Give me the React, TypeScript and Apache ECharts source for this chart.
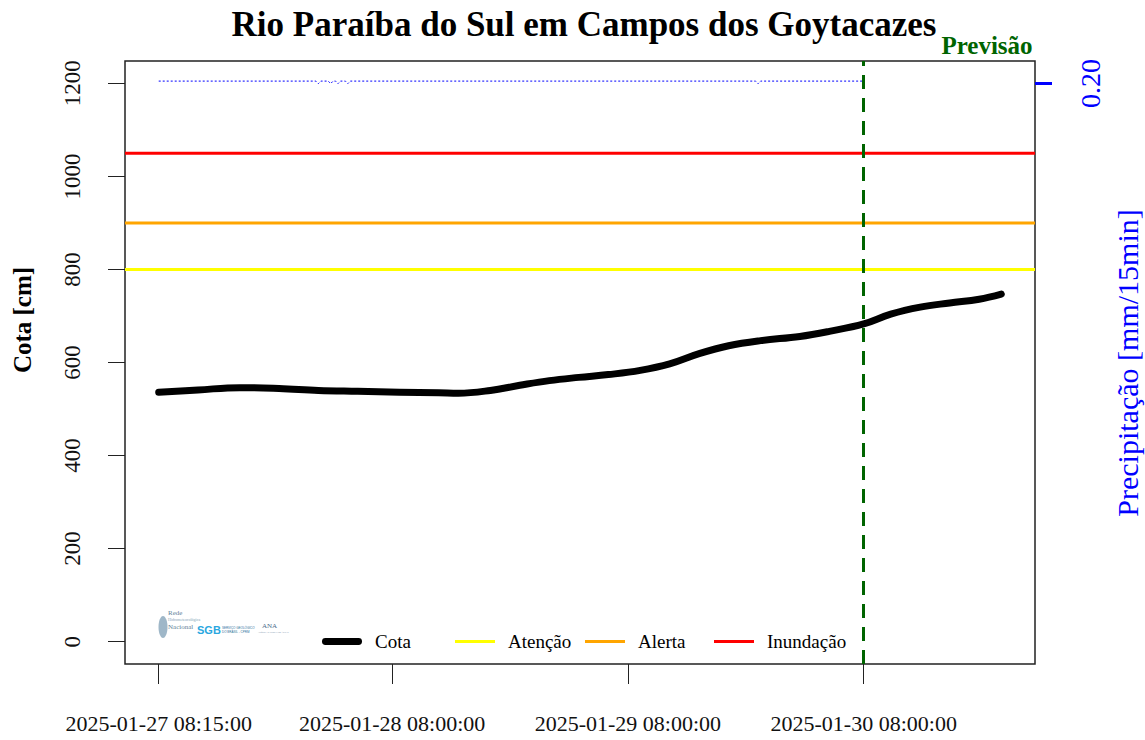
import React, { useEffect, useRef } from "react";
import * as echarts from "echarts";

const FONT = "'Liberation Serif', 'Times New Roman', serif";

const titleText = "Rio Paraíba do Sul em Campos dos Goytacazes";

// Observed + forecast water level (cm)
const cotaTimes = [
  "2025-01-27 08:15", "2025-01-27 12:15", "2025-01-27 16:30", "2025-01-27 20:30",
  "2025-01-28 00:30", "2025-01-28 04:30", "2025-01-28 08:45", "2025-01-28 12:45",
  "2025-01-28 14:45", "2025-01-28 18:00", "2025-01-28 21:00", "2025-01-29 00:00",
  "2025-01-29 03:00", "2025-01-29 06:00", "2025-01-29 09:15", "2025-01-29 12:15",
  "2025-01-29 15:15", "2025-01-29 18:15", "2025-01-29 21:30", "2025-01-30 01:30",
  "2025-01-30 04:30", "2025-01-30 08:00", "2025-01-30 10:45", "2025-01-30 13:45",
  "2025-01-30 16:45", "2025-01-30 19:45", "2025-01-30 22:00",
];
const cotaValues = [
  536, 541, 546, 544, 540, 538, 536, 535, 534, 540, 551, 561, 568, 574, 583, 597,
  619, 636, 647, 656, 667, 683, 704, 719, 728, 736, 747,
];

// Precipitation (mm/15min)
const precipTimes = [
  "2025-01-27 08:15", "2025-01-28 00:15", "2025-01-28 00:30", "2025-01-28 00:45",
  "2025-01-28 01:30", "2025-01-28 01:45", "2025-01-28 02:00", "2025-01-28 02:15",
  "2025-01-28 02:30", "2025-01-28 02:45", "2025-01-28 03:15", "2025-01-28 03:30",
  "2025-01-28 03:45", "2025-01-29 21:00", "2025-01-29 21:15", "2025-01-29 21:30",
  "2025-01-30 08:00",
];
const precipValues = [0, 0, 0.2, 0, 0, 0.2, 0, 0, 0.2, 0, 0, 0.2, 0, 0, 0.2, 0, 0];

// Thresholds
const thresholdNames = ["Atenção", "Alerta", "Inundação"];
const thresholdValues = [800, 900, 1050];
const thresholdColors = ["#FFFF00", "#FFA500", "#FF0000"];

const forecastStart = "2025-01-30 08:00";

const xTickLabels = [
  "2025-01-27 08:15:00",
  "2025-01-28 08:00:00",
  "2025-01-29 08:00:00",
  "2025-01-30 08:00:00",
];
const yTicks = [0, 200, 400, 600, 800, 1000, 1200];
const precipTicks = [0.2];

const toMs = (s: string) => new Date(s.replace(" ", "T") + (s.length === 16 ? ":00" : "")).getTime();
const pad = (n: number) => String(n).padStart(2, "0");
const fmt = (v: number) => {
  const d = new Date(v);
  return `${d.getFullYear()}-${pad(d.getMonth() + 1)}-${pad(d.getDate())} ${pad(d.getHours())}:${pad(
    d.getMinutes()
  )}:${pad(d.getSeconds())}`;
};

export default function App() {
  const ref = useRef<HTMLDivElement>(null);
  useEffect(() => {
    if (!ref.current) return;
    const chart = echarts.init(ref.current, null, { renderer: "svg" });

    const cotaData = cotaTimes.map((t, i) => [toMs(t), cotaValues[i]]);
    const precipData = precipTimes.map((t, i) => [toMs(t), precipValues[i]]);
    const t0 = cotaData[0][0];
    const t1 = cotaData[cotaData.length - 1][0];
    const ext = (t1 - t0) * 0.04;
    const xmin = t0 - ext;
    const xmax = t1 + ext;
    const xTickMs = xTickLabels.map(toMs);

    const thresholdSeries = thresholdNames.map((name, i) => ({
      name,
      type: "line",
      data: [
        [xmin, thresholdValues[i]],
        [xmax, thresholdValues[i]],
      ],
      showSymbol: false,
      symbol: "none",
      lineStyle: { color: thresholdColors[i], width: 3 },
      itemStyle: { color: thresholdColors[i] },
      silent: true,
      z: 2,
    }));

    const legendLefts = [322, 455, 585, 714];
    const legendNames = ["Cota", ...thresholdNames];
    const legends = legendNames.map((name, i) => ({
      data: [
        {
          name,
          icon: i === 0 ? "path://M3,0H37A3,3 0 0 1 37,7H3A3,3 0 0 1 3,0Z" : "path://M0,0H40V3H0Z",
        },
      ],
      left: legendLefts[i],
      top: 632,
      itemWidth: 40,
      itemHeight: 8,
      selectedMode: false,
      padding: 0,
      textStyle: { fontFamily: FONT, fontSize: 19, color: "#000", padding: [0, 0, 0, 8] },
    }));

    chart.setOption({
      animation: false,
      backgroundColor: "#fff",
      grid: {
        left: 125,
        right: 110,
        top: 61,
        bottom: 76,
        show: true,
        borderColor: "#222",
        borderWidth: 1.5,
        backgroundColor: "transparent",
      },
      legend: legends,
      xAxis: {
        type: "value",
        min: xmin,
        max: xmax,
        axisLine: { show: false, onZero: false },
        splitLine: { show: false },
        axisTick: { show: true, inside: false, customValues: xTickMs, length: 20, lineStyle: { color: "#222", width: 1 } },
        axisLabel: {
          customValues: xTickMs,
          formatter: (v: number) => fmt(v),
          margin: 48,
          fontFamily: FONT,
          fontSize: 22,
          color: "#111",
          hideOverlap: false,
        },
      },
      yAxis: [
        {
          type: "value",
          min: -48,
          max: 1248,
          axisLine: { show: false, onZero: false },
          splitLine: { show: false },
          axisTick: { show: true, customValues: yTicks, length: 17, lineStyle: { color: "#222", width: 1 } },
          axisLabel: {
            customValues: yTicks,
            formatter: (v: number) => String(v),
            rotate: 90,
            margin: 41,
            fontFamily: FONT,
            fontSize: 23,
            color: "#111",
          },
        },
        {
          type: "value",
          position: "right",
          inverse: true,
          min: -1.6,
          max: 46.4,
          axisLine: { show: false, onZero: false },
          splitLine: { show: false },
          axisTick: {
            show: true,
            customValues: precipTicks,
            length: 17,
            lineStyle: { color: "#0000FF", width: 3 },
          },
          axisLabel: {
            customValues: precipTicks,
            formatter: (v: number) => v.toFixed(2),
            rotate: 90,
            margin: 41,
            fontFamily: FONT,
            fontSize: 28,
            color: "#0000FF",
          },
        },
      ],
      series: [
        ...thresholdSeries,
        {
          name: "Precipitação",
          type: "line",
          yAxisIndex: 1,
          data: precipData,
          showSymbol: false,
          symbol: "none",
          lineStyle: { color: "#0000FF", width: 1, type: [2, 2] },
          silent: true,
          z: 3,
        },
        {
          name: "Cota",
          type: "line",
          data: cotaData,
          showSymbol: false,
          symbol: "none",
          smooth: 0.4,
          lineStyle: { color: "#000", width: 7, cap: "round", join: "round" },
          itemStyle: { color: "#000" },
          silent: true,
          z: 5,
          markLine: {
            silent: true,
            symbol: "none",
            label: { show: false },
            lineStyle: { color: "#006400", width: 3, type: [14, 9] },
            data: [{ xAxis: toMs(forecastStart) }],
          },
        },
      ],
      graphic: [
        {
          type: "text",
          x: 584,
          y: 24,
          style: {
            text: titleText,
            font: `bold 35px ${FONT}`,
            fill: "#000",
            align: "center",
            verticalAlign: "middle",
          },
        },
        {
          type: "text",
          x: 987,
          y: 45,
          style: {
            text: "Previsão",
            font: `bold 25px ${FONT}`,
            fill: "#006400",
            align: "center",
            verticalAlign: "middle",
          },
        },
        {
          type: "text",
          x: 22,
          y: 320,
          rotation: Math.PI / 2,
          style: {
            text: "Cota [cm]",
            font: `bold 25px ${FONT}`,
            fill: "#000",
            align: "center",
            verticalAlign: "middle",
          },
        },
        {
          type: "text",
          x: 1127,
          y: 363,
          rotation: Math.PI / 2,
          style: {
            text: "Precipitação [mm/15min]",
            font: `30px ${FONT}`,
            fill: "#0000FF",
            align: "center",
            verticalAlign: "middle",
          },
        },
        {
          type: "group",
          children: [
            { type: "ellipse", shape: { cx: 163, cy: 627, rx: 4.5, ry: 11 }, style: { fill: "#7f9fb6", opacity: 0.75 } },
            { type: "text", x: 168, y: 609, style: { text: "Rede", font: `7px ${FONT}`, fill: "#5f7f98" } },
            { type: "text", x: 168, y: 617, style: { text: "Hidrometeorológica", font: `4px ${FONT}`, fill: "#7f9fb6" } },
            { type: "text", x: 168, y: 623, style: { text: "Nacional", font: `7px ${FONT}`, fill: "#5f7f98" } },
            { type: "text", x: 197, y: 624, style: { text: "SGB", font: `bold 11px Arial, sans-serif`, fill: "#2aa7df" } },
            { type: "text", x: 222, y: 626, style: { text: "SERVIÇO GEOLÓGICO", font: `3px sans-serif`, fill: "#2a6f9a" } },
            { type: "text", x: 222, y: 630, style: { text: "DO BRASIL - CPRM", font: `3px sans-serif`, fill: "#2a6f9a" } },
            { type: "text", x: 262, y: 622, style: { text: "ANA", font: `7px ${FONT}`, fill: "#4a6c8c" } },
            { type: "text", x: 258, y: 631, style: { text: "AGÊNCIA NACIONAL DE ÁGUAS", font: `2px sans-serif`, fill: "#8aa0b5" } },
          ],
        },
      ],
    });
    return () => chart.dispose();
  }, []);
  return (
    <div
      ref={ref}
      style={{ position: "fixed", left: 0, top: 0, width: 1145, height: 740, background: "#fff" }}
    />
  );
}
